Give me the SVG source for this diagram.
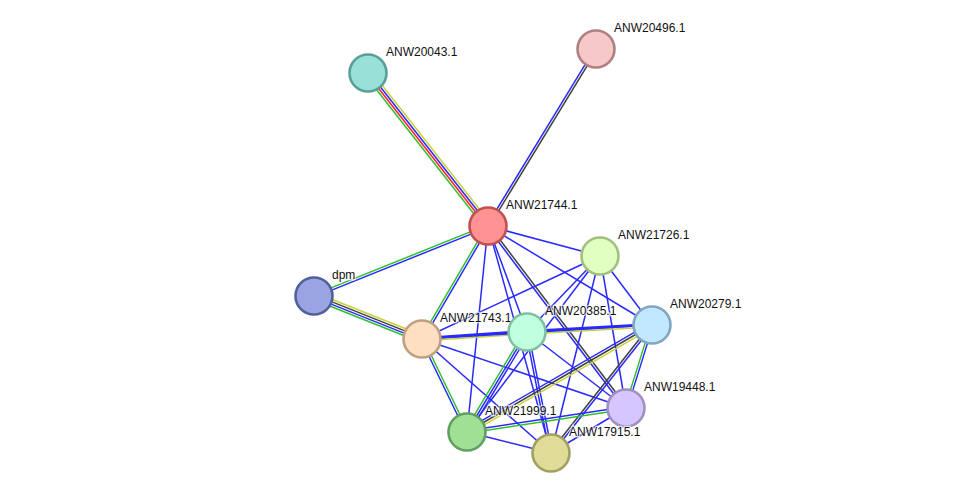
<svg xmlns="http://www.w3.org/2000/svg" width="975" height="499" viewBox="0 0 975 499">
<style>
line{stroke-width:1.5;fill:none}
.b{stroke:#2a2aff}
.g{stroke:#2fc02f}
.y{stroke:#c8d23a}
.r{stroke:#ff2020}
.k{stroke:#404040}
.node circle{stroke-width:2.6}
text{font-family:"Liberation Sans",Arial,sans-serif;font-size:12px;fill:#111;stroke:#fff;stroke-width:2.5;stroke-opacity:0.7;paint-order:stroke}
</style>
<rect width="975" height="499" fill="#fff"/>
<g id="edges">
<!-- 20043-21744 -->
<line class="y" x1="370.8" y1="70.8" x2="490.8" y2="223.8"/>
<line class="b" x1="368.9" y1="72.3" x2="488.9" y2="225.3"/>
<line class="r" x1="367.1" y1="73.7" x2="487.1" y2="226.7"/>
<line class="g" x1="365.2" y1="75.2" x2="485.2" y2="228.2"/>
<!-- 20496-21744 -->
<line class="b" x1="595" y1="48.4" x2="487" y2="225.4"/>
<line class="k" x1="597" y1="49.6" x2="489" y2="226.6"/>
<!-- dpm-21744 -->
<line class="g" x1="313.6" y1="294.9" x2="487.6" y2="224.9"/>
<line class="b" x1="314.4" y1="297.1" x2="488.4" y2="227.1"/>
<!-- dpm-21743 -->
<line class="y" x1="315.3" y1="292.7" x2="423.3" y2="335.7"/>
<line class="k" x1="314.4" y1="294.9" x2="422.4" y2="337.9"/>
<line class="b" x1="313.6" y1="297.1" x2="421.6" y2="340.1"/>
<line class="g" x1="312.7" y1="299.3" x2="420.7" y2="342.3"/>
<!-- 21744-21743 -->
<line class="g" x1="487" y1="225.4" x2="421" y2="338.4"/>
<line class="b" x1="489" y1="226.6" x2="423" y2="339.6"/>
<!-- 21744 singles -->
<line class="b" x1="488" y1="226" x2="600" y2="256"/>
<line class="b" x1="488" y1="226" x2="652" y2="325"/>
<line class="b" x1="488" y1="226" x2="527" y2="332"/>
<line class="b" x1="488" y1="226" x2="467" y2="432"/>
<line class="b" x1="488" y1="226" x2="551" y2="453"/>
<!-- 21744-19448 -->
<line class="k" x1="489" y1="225.3" x2="627" y2="407.3"/>
<line class="b" x1="487" y1="226.7" x2="625" y2="408.7"/>
<!-- 21726 singles -->
<line class="b" x1="600" y1="256" x2="422" y2="339"/>
<line class="b" x1="600" y1="256" x2="527" y2="332"/>
<line class="b" x1="600" y1="256" x2="652" y2="325"/>
<line class="b" x1="600" y1="256" x2="626" y2="408"/>
<line class="b" x1="600" y1="256" x2="467" y2="432"/>
<line class="b" x1="600" y1="256" x2="551" y2="453"/>
<!-- 21743-20385 -->
<line class="y" x1="422.1" y1="340.9" x2="527.1" y2="333.9"/>
<line class="b" style="stroke-width:2.8" x1="422" y1="338.3" x2="527" y2="331.3"/>
<!-- 20385-20279 -->
<line class="y" x1="527.1" y1="333.9" x2="652.1" y2="326.9"/>
<line class="b" style="stroke-width:2.8" x1="527" y1="331.3" x2="652" y2="324.3"/>
<!-- 21743 singles -->
<line class="b" x1="422" y1="339" x2="652" y2="325"/>
<line class="b" x1="422" y1="339" x2="626" y2="408"/>
<line class="b" x1="422" y1="339" x2="551" y2="453"/>
<!-- 21743-21999 -->
<line class="b" x1="420.9" y1="339.5" x2="465.9" y2="432.5"/>
<line class="g" x1="423.1" y1="338.5" x2="468.1" y2="431.5"/>
<!-- 20385-21999 -->
<line class="g" x1="524.9" y1="330.8" x2="464.9" y2="430.8"/>
<line class="b" x1="527" y1="332" x2="467" y2="432"/>
<line class="b" x1="529.1" y1="333.2" x2="469.1" y2="433.2"/>
<!-- 20385-19448 -->
<line class="b" x1="527" y1="332" x2="626" y2="408"/>
<!-- 20385-17915 -->
<line class="b" x1="525.8" y1="332.2" x2="549.8" y2="453.2"/>
<line class="b" x1="528.2" y1="331.8" x2="552.2" y2="452.8"/>
<!-- 20279-21999 -->
<line class="b" x1="650.8" y1="322.9" x2="465.8" y2="429.9"/>
<line class="k" x1="652" y1="325" x2="467" y2="432"/>
<line class="y" x1="653.2" y1="327.1" x2="468.2" y2="434.1"/>
<!-- 20279-19448 -->
<line class="g" x1="650.9" y1="324.6" x2="624.9" y2="407.6"/>
<line class="b" x1="653.1" y1="325.4" x2="627.1" y2="408.4"/>
<!-- 20279-17915 -->
<line class="k" x1="651.1" y1="324.3" x2="550.1" y2="452.3"/>
<line class="b" x1="652.9" y1="325.7" x2="551.9" y2="453.7"/>
<!-- 21999-19448 -->
<line class="b" x1="466.8" y1="430.8" x2="625.8" y2="406.8"/>
<line class="g" x1="467.2" y1="433.2" x2="626.2" y2="409.2"/>
<!-- others -->
<line class="b" x1="467" y1="432" x2="551" y2="453"/>
<line class="b" x1="626" y1="408" x2="551" y2="453"/>
</g>
<g id="n-ANW20043.1" class="node"><circle cx="368" cy="73" r="18.5" fill="#99e0d8" stroke="#5a9e98"/><text x="386" y="56">ANW20043.1</text></g>
<g id="n-ANW20496.1" class="node"><circle cx="596" cy="49" r="18.5" fill="#f7c8c8" stroke="#b08080"/><text x="614" y="32">ANW20496.1</text></g>
<g id="n-ANW21744.1" class="node"><circle cx="488" cy="226" r="18.5" fill="#ff9292" stroke="#c05050"/><text x="506" y="209">ANW21744.1</text></g>
<g id="n-ANW21726.1" class="node"><circle cx="600" cy="256" r="18.5" fill="#e0ffc0" stroke="#a0c080"/><text x="618" y="239">ANW21726.1</text></g>
<g id="n-dpm" class="node"><circle cx="314" cy="296" r="18.5" fill="#9aa4e0" stroke="#50609c"/><text x="332" y="279">dpm</text></g>
<g id="n-ANW21743.1" class="node"><circle cx="422" cy="339" r="18.5" fill="#ffdfc2" stroke="#c0a080"/><text x="440" y="322">ANW21743.1</text></g>
<g id="n-ANW20385.1" class="node"><circle cx="527" cy="332" r="18.5" fill="#c0ffe0" stroke="#80c0a0"/><text x="545" y="315">ANW20385.1</text></g>
<g id="n-ANW20279.1" class="node"><circle cx="652" cy="325" r="18.5" fill="#c2e8ff" stroke="#80a6c0"/><text x="670" y="308">ANW20279.1</text></g>
<g id="n-ANW19448.1" class="node"><circle cx="626" cy="408" r="18.5" fill="#d6c6ff" stroke="#a090c0"/><text x="644" y="391">ANW19448.1</text></g>
<g id="n-ANW21999.1" class="node"><circle cx="467" cy="432" r="18.5" fill="#a0e094" stroke="#60a060"/><text x="485" y="415">ANW21999.1</text></g>
<g id="n-ANW17915.1" class="node"><circle cx="551" cy="453" r="18.5" fill="#e0dc98" stroke="#a0a060"/><text x="569" y="436">ANW17915.1</text></g>
</svg>
